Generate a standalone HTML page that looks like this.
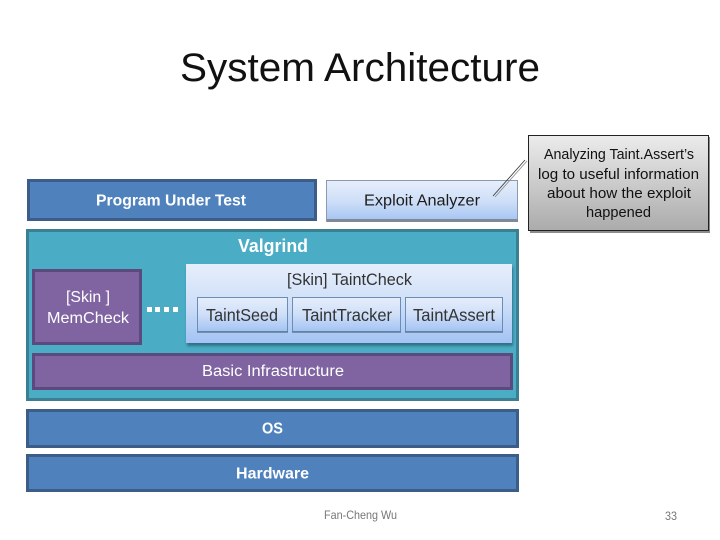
<!DOCTYPE html>
<html>
<head>
<meta charset="utf-8">
<style>
html,body{margin:0;padding:0;background:#fff;width:720px;height:540px;overflow:hidden}
svg{display:block}
text{font-family:"Liberation Sans",sans-serif}
</style>
</head>
<body>
<svg width="720" height="540" viewBox="0 0 720 540" xmlns="http://www.w3.org/2000/svg">
<defs>
<linearGradient id="lb" x1="0" y1="0" x2="0" y2="1"><stop offset="0" stop-color="#e6eefb"/><stop offset="0.5" stop-color="#cfdff8"/><stop offset="1" stop-color="#a3c3f3"/></linearGradient>
<linearGradient id="gr" x1="0" y1="0" x2="0" y2="1"><stop offset="0" stop-color="#ececec"/><stop offset="1" stop-color="#ababab"/></linearGradient>
<filter id="blur" x="-10%" y="-10%" width="120%" height="130%"><feGaussianBlur stdDeviation="1.2"/></filter>
</defs>

<text x="180" y="81" font-size="40" fill="#111" textLength="360" lengthAdjust="spacingAndGlyphs">System Architecture</text>

<!-- Program Under Test -->
<rect x="28.500" y="180.500" width="287" height="39" fill="#4f81bd" stroke="#3b5d87" stroke-width="3"/>
<text x="96" y="205.500" font-size="15.500" font-weight="bold" fill="#fff" textLength="150" lengthAdjust="spacingAndGlyphs">Program Under Test</text>

<!-- Exploit Analyzer -->
<rect x="326.500" y="180.500" width="191" height="41" fill="url(#lb)" stroke="#8a9bb0"/>
<rect x="327" y="219" width="191" height="3" fill="#7f8a99"/>
<text x="364" y="205.500" font-size="15.500" fill="#1c1c1c" textLength="116" lengthAdjust="spacingAndGlyphs">Exploit Analyzer</text>

<!-- Valgrind -->
<rect x="27.500" y="230.500" width="490" height="169" fill="#4bacc6" stroke="#3a7f92" stroke-width="3"/>
<text x="238" y="252" font-size="18" font-weight="bold" fill="#fff" textLength="70" lengthAdjust="spacingAndGlyphs">Valgrind</text>

<!-- MemCheck -->
<rect x="33.500" y="270.500" width="107" height="73" fill="#8064a2" stroke="#5b4a7e" stroke-width="3"/>
<text x="66" y="302" font-size="15.500" fill="#fff" textLength="44" lengthAdjust="spacingAndGlyphs">[Skin ]</text>
<text x="47" y="323" font-size="15.500" fill="#fff" textLength="82" lengthAdjust="spacingAndGlyphs">MemCheck</text>

<!-- dots -->
<rect x="147" y="307" width="5" height="5" fill="#fff"/>
<rect x="155" y="307" width="5" height="5" fill="#fff"/>
<rect x="164" y="307" width="5" height="5" fill="#fff"/>
<rect x="173" y="307" width="5" height="5" fill="#fff"/>

<!-- TaintCheck -->
<rect x="187" y="267" width="326" height="79" fill="#2a6275" opacity="0.8" filter="url(#blur)"/>
<rect x="186" y="264" width="326" height="79" fill="url(#lb)"/>
<text x="287" y="285" font-size="17" fill="#333" textLength="125" lengthAdjust="spacingAndGlyphs">[Skin] TaintCheck</text>

<rect x="197.500" y="297.500" width="90" height="34" fill="url(#lb)" stroke="#6a8db5"/>
<rect x="197" y="331" width="91" height="2" fill="#5f7f9f" opacity="0.8"/>
<text x="206" y="321" font-size="17.500" fill="#333" textLength="72" lengthAdjust="spacingAndGlyphs">TaintSeed</text>

<rect x="292.500" y="297.500" width="108" height="34" fill="url(#lb)" stroke="#6a8db5"/>
<rect x="292" y="331" width="109" height="2" fill="#5f7f9f" opacity="0.8"/>
<text x="302" y="321" font-size="17.500" fill="#333" textLength="90" lengthAdjust="spacingAndGlyphs">TaintTracker</text>

<rect x="405.500" y="297.500" width="97" height="34" fill="url(#lb)" stroke="#6a8db5"/>
<rect x="405" y="331" width="98" height="2" fill="#5f7f9f" opacity="0.8"/>
<text x="413" y="321" font-size="17.500" fill="#333" textLength="82" lengthAdjust="spacingAndGlyphs">TaintAssert</text>

<!-- Basic Infrastructure -->
<rect x="33.500" y="354.500" width="478" height="34" fill="#8064a2" stroke="#5b4a7e" stroke-width="3"/>
<text x="202" y="376" font-size="15.500" fill="#fff" textLength="142" lengthAdjust="spacingAndGlyphs">Basic Infrastructure</text>

<!-- OS -->
<rect x="27.500" y="410.500" width="490" height="36" fill="#4f81bd" stroke="#3b5d87" stroke-width="3"/>
<text x="262" y="433.500" font-size="15.500" font-weight="bold" fill="#fff" textLength="21" lengthAdjust="spacingAndGlyphs">OS</text>

<!-- Hardware -->
<rect x="27.500" y="455.500" width="490" height="35" fill="#4f81bd" stroke="#3b5d87" stroke-width="3"/>
<text x="236" y="478.500" font-size="15.500" font-weight="bold" fill="#fff" textLength="73" lengthAdjust="spacingAndGlyphs">Hardware</text>

<!-- Callout -->
<rect x="530" y="137" width="180" height="96" fill="#666" opacity="0.75"/>
<rect x="528.500" y="135.500" width="180" height="95" fill="url(#gr)" stroke="#222"/>
<path d="M525 160 L493 196" stroke="#333" stroke-width="0.800" fill="none"/>
<path d="M527 161 L495 197" stroke="#888" stroke-width="0.800" fill="none"/>
<text x="544" y="159" font-size="14.500" fill="#111" textLength="150" lengthAdjust="spacingAndGlyphs">Analyzing Taint.Assert’s</text>
<text x="538" y="179" font-size="14.500" fill="#111" textLength="161" lengthAdjust="spacingAndGlyphs">log to useful information</text>
<text x="547" y="198" font-size="14.500" fill="#111" textLength="144" lengthAdjust="spacingAndGlyphs">about how the exploit</text>
<text x="586" y="217" font-size="14.500" fill="#111" textLength="65" lengthAdjust="spacingAndGlyphs">happened</text>

<!-- Footer -->
<text x="324" y="519" font-size="12" fill="#777" textLength="73" lengthAdjust="spacingAndGlyphs">Fan-Cheng Wu</text>
<text x="665" y="520" font-size="12" fill="#777" textLength="12" lengthAdjust="spacingAndGlyphs">33</text>
</svg>
</body>
</html>
